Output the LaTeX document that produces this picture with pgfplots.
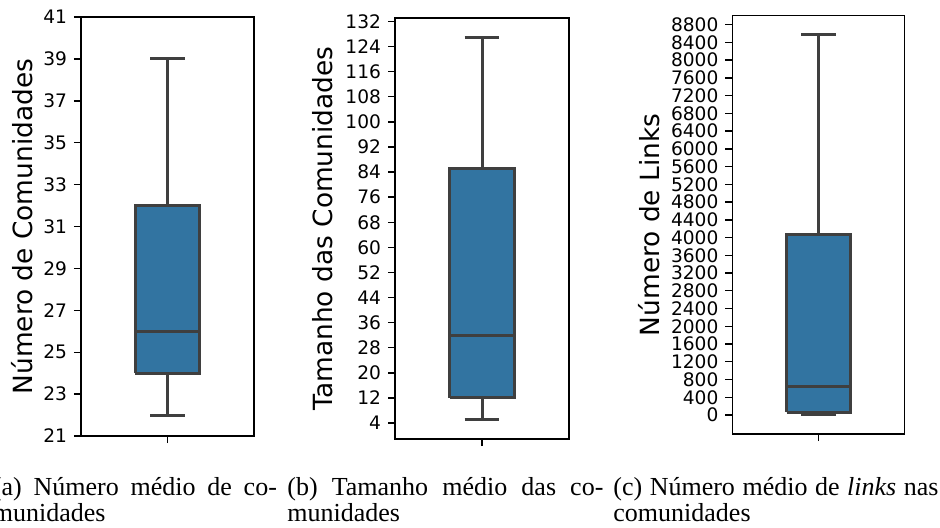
\documentclass[border=0pt]{standalone}
\usepackage{fontspec}
\setmainfont{DejaVu Sans}
\newfontfamily\capfont{Liberation Serif}
\usepackage{pgfplots}
\pgfplotsset{compat=1.18}
\definecolor{boxblue}{RGB}{50,116,161}
\definecolor{boxline}{RGB}{63,63,63}
\pgfplotsset{
  panel/.style={
    scale only axis, anchor=south west,
    xmin=-0.5, xmax=0.5, xtick={0}, xticklabels={},
    tick align=outside, major tick length=3.5pt,
    tick pos=left,
    axis line style={line width=0.7pt, black},
    every tick/.style={black, line width=0.7pt},
    tick label style={font=\fontsize{9.3}{10}\selectfont},
    /pgf/number format/assume math mode=true,
    /pgf/number format/1000 sep={},
    scaled y ticks=false,
    ylabel style={font=\fontsize{13.2}{14}\selectfont, anchor=center},
  },
  mybox/.style={fill=boxblue, draw=boxline, line width=1.5pt, solid, mark=none},
  myline/.style={draw=boxline, line width=1.5pt, solid, mark=none},
}
\begin{document}
\begin{tikzpicture}
\path[use as bounding box] (0,0) rectangle (470pt,263.5pt);
% Panel (a): whiskers 22/39, quartiles 24/32, median 26
\begin{axis}[panel, at={(40.5pt,45.5pt)}, width=86.5pt, height=209.5pt,
  ymin=21, ymax=41, ytick={21,23,...,41},
  ylabel={Número de Comunidades},
  ylabel style={at={(axis description cs:-0.341,0.5)}}]
\addplot[myline] coordinates {(0,32) (0,39)};
\addplot[myline] coordinates {(-0.1,39) (0.1,39)};
\addplot[myline] coordinates {(0,24) (0,22)};
\addplot[myline] coordinates {(-0.1,22) (0.1,22)};
\addplot[mybox] coordinates {(-0.185,24) (0.185,24) (0.185,32) (-0.185,32) (-0.185,24)};
\addplot[myline] coordinates {(-0.185,26) (0.185,26)};
\end{axis}
% Panel (b): whiskers 5/127, quartiles 12/85, median 32
\begin{axis}[panel, at={(197.5pt,44pt)}, width=87pt, height=210.5pt,
  ymin=-1.1, ymax=133.1, ytick={4,12,...,132},
  ylabel={Tamanho das Comunidades},
  ylabel style={at={(axis description cs:-0.414,0.5)}}]
\addplot[myline] coordinates {(0,85) (0,127)};
\addplot[myline] coordinates {(-0.1,127) (0.1,127)};
\addplot[myline] coordinates {(0,12) (0,5)};
\addplot[myline] coordinates {(-0.1,5) (0.1,5)};
\addplot[mybox] coordinates {(-0.185,12) (0.185,12) (0.185,85) (-0.185,85) (-0.185,12)};
\addplot[myline] coordinates {(-0.185,32) (0.185,32)};
\end{axis}
% Panel (c): whiskers 0/8575, quartiles 60/4066, median 633
\begin{axis}[panel, at={(366.2pt,46.5pt)}, width=86pt, height=209.2pt,
  ymin=-429, ymax=9004, ytick={0,400,...,8800},
  ylabel={Número de Links},
  ylabel style={at={(axis description cs:-0.484,0.5)}}]
\addplot[myline] coordinates {(0,4066) (0,8575)};
\addplot[myline] coordinates {(-0.1,8575) (0.1,8575)};
\addplot[myline] coordinates {(0,60) (0,0)};
\addplot[myline] coordinates {(-0.1,0) (0.1,0)};
\addplot[mybox] coordinates {(-0.185,60) (0.185,60) (0.185,4066) (-0.185,4066) (-0.185,60)};
\addplot[myline] coordinates {(-0.185,633) (0.185,633)};
\end{axis}
% Captions
\begin{scope}[every node/.style={anchor=base west, inner sep=0pt, font=\capfont\fontsize{13}{14}\selectfont}]
\node at (-3.75pt,16pt) {\makebox[142pt][s]{(a) Número médio de co-}};
\node at (-3.75pt,3pt) {munidades};
\node at (143.5pt,16pt) {\makebox[158pt][s]{(b) Tamanho médio das co-}};
\node at (143.5pt,3pt) {munidades};
\node at (306.5pt,16pt) {\makebox[162.5pt][s]{(c) Número médio de \textit{links} nas}};
\node at (306.5pt,3pt) {comunidades};
\end{scope}
\end{tikzpicture}
\end{document}
